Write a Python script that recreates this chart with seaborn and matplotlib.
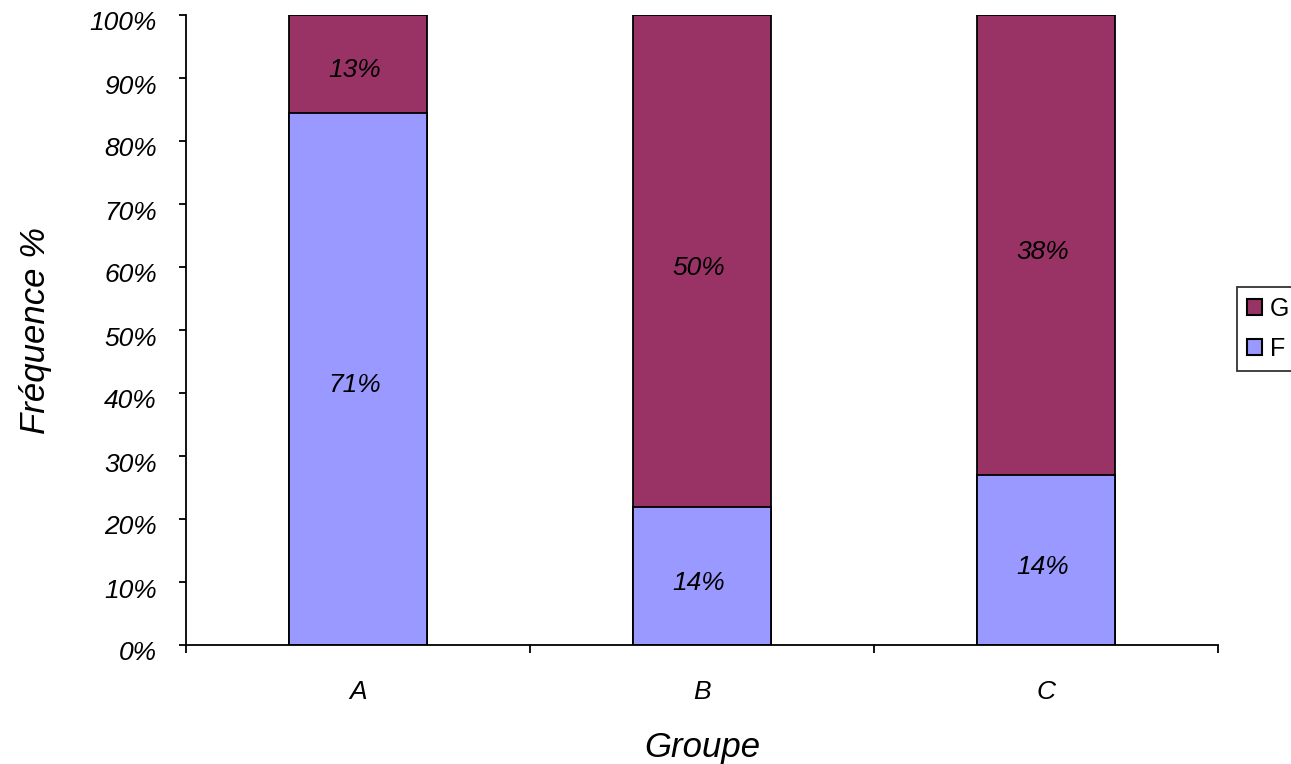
import matplotlib
matplotlib.use("Agg")
import matplotlib.pyplot as plt
import seaborn as sns
import pandas as pd
import numpy as np
from matplotlib.patches import Patch
from matplotlib.ticker import FixedLocator, PercentFormatter
from matplotlib.transforms import ScaledTranslation

groups = ["A", "B", "C"]
f_vals = [71, 14, 14]   # labels shown for F (%)
g_vals = [13, 50, 38]   # labels shown for G (%)
yticks = [0, 10, 20, 30, 40, 50, 60, 70, 80, 90, 100]

c_f = "#9999FF"
c_g = "#993366"

sns.set_theme(style="white")
plt.rcParams["font.family"] = ["Liberation Sans", "DejaVu Sans"]
plt.rcParams["text.color"] = "black"
plt.rcParams["axes.labelcolor"] = "black"
plt.rcParams["xtick.color"] = "black"
plt.rcParams["ytick.color"] = "black"

f_arr = np.array(f_vals, dtype=float)
g_arr = np.array(g_vals, dtype=float)
tot = f_arr + g_arr
f_pct = f_arr / tot * 100
df = pd.DataFrame({"Groupe": groups, "F": f_pct, "Total": np.full(3, 100.0)})

fig = plt.figure(figsize=(12.91, 7.64), dpi=100)
ax = fig.add_axes([186/1291, 1-645/764, (1218-186)/1291, (645-15)/764])

sns.barplot(data=df, x="Groupe", y="Total", color=c_g, width=0.4,
            edgecolor="black", linewidth=1.3, saturation=1, ax=ax)
sns.barplot(data=df, x="Groupe", y="F", color=c_f, width=0.4,
            edgecolor="black", linewidth=1.3, saturation=1, ax=ax)

down = ScaledTranslation(0, -4/100, fig.dpi_scale_trans)
for i in range(3):
    ax.text(i - 0.01, f_pct[i] / 2, f"{f_vals[i]}%", ha="center",
            va="center_baseline", fontsize=19, style="italic", color="black",
            transform=ax.transData + down)
    ax.text(i - 0.01, f_pct[i] + (100 - f_pct[i]) / 2, f"{g_vals[i]}%",
            ha="center", va="center_baseline", fontsize=19, style="italic",
            color="black", transform=ax.transData + down)

ax.set_xlim(-0.5, 2.5)
ax.set_ylim(0, 100)
ax.yaxis.set_major_locator(FixedLocator(yticks))
ax.yaxis.set_major_formatter(PercentFormatter(decimals=0))

ax.set_xticks([-0.5, 0.5, 1.5, 2.5])
ax.set_xticklabels([])
ax.set_xticks([0, 1, 2], minor=True)
ax.set_xticklabels(groups, minor=True)

for sp in ["top", "right"]:
    ax.spines[sp].set_visible(False)
for sp in ["left", "bottom"]:
    ax.spines[sp].set_color("black")
    ax.spines[sp].set_linewidth(1.3)

ax.tick_params(axis="y", which="major", left=True, length=5, width=1.3,
               color="black", direction="out", pad=16, labelsize=19)
ax.tick_params(axis="x", which="major", bottom=True, length=6, width=1.3,
               color="black", direction="out")
ax.tick_params(axis="x", which="minor", bottom=True, length=0, pad=25.5,
               labelsize=19)

ax.set_xlabel("Groupe", fontsize=25, style="italic", labelpad=19)
ax.set_ylabel("Fréquence %", fontsize=25, style="italic", labelpad=27)

fig.canvas.draw()
shift = ScaledTranslation(0, -6/100, fig.dpi_scale_trans)
for lbl in ax.get_yticklabels():
    lbl.set_fontstyle("italic")
    lbl.set_transform(lbl.get_transform() + shift)
for lbl in ax.get_xticklabels(minor=True):
    lbl.set_fontstyle("italic")

handles = [Patch(facecolor=c_g, edgecolor="black", linewidth=1.5, label="G"),
           Patch(facecolor=c_f, edgecolor="black", linewidth=1.5, label="F")]
leg = fig.legend(handles=handles, loc="upper left",
                 bbox_to_anchor=(1237/1291, 1-287/764), fontsize=18,
                 frameon=True, fancybox=False, handlelength=0.6,
                 handleheight=0.6, handletextpad=0.3, borderpad=0.4,
                 labelspacing=0.62, borderaxespad=0)
leg.get_frame().set_edgecolor("black")
leg.get_frame().set_linewidth(1.3)

fig.savefig("out.png", dpi=100)
